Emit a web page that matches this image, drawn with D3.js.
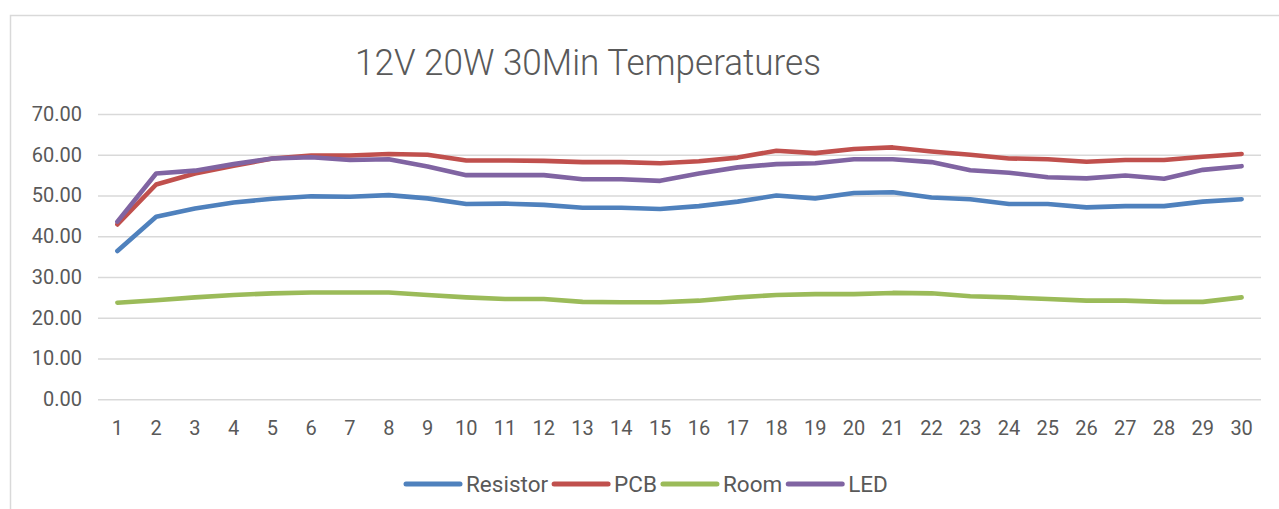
<!DOCTYPE html>
<html>
<head>
<meta charset="utf-8">
<script src="https://cdn.jsdelivr.net/npm/d3@7"></script>
<style>
  body { margin: 0; background: #fff; }
  text { font-family: Roboto, "DejaVu Sans", sans-serif; fill: #595959; }
</style>
</head>
<body>
<div id="chart"></div>
<script>
// minutes 1..30
var minutes = d3.range(1, 31).map(String);
var resistor = [36.4, 44.8, 46.8, 48.3, 49.2, 49.8, 49.7, 50.1, 49.3, 47.9, 48.0, 47.7, 47.0, 47.0, 46.7,
                47.4, 48.5, 50.0, 49.3, 50.6, 50.8, 49.5, 49.1, 47.9, 47.9, 47.1, 47.4, 47.4, 48.5, 49.1];
var pcb      = [42.9, 52.7, 55.4, 57.3, 59.1, 59.8, 59.8, 60.2, 60.0, 58.6, 58.6, 58.5, 58.2, 58.2, 57.9,
                58.4, 59.3, 61.0, 60.4, 61.4, 61.8, 60.8, 60.0, 59.1, 58.9, 58.3, 58.7, 58.7, 59.5, 60.2];
var room     = [23.7, 24.3, 25.0, 25.6, 26.0, 26.2, 26.2, 26.2, 25.6, 25.0, 24.6, 24.6, 23.9, 23.8, 23.8,
                24.2, 25.0, 25.6, 25.8, 25.8, 26.1, 26.0, 25.3, 25.0, 24.6, 24.2, 24.2, 23.9, 23.9, 25.0];
var led      = [43.6, 55.4, 56.1, 57.7, 59.1, 59.4, 58.7, 58.9, 57.1, 55.0, 55.0, 55.0, 54.0, 54.0, 53.6,
                55.4, 56.9, 57.7, 57.9, 58.9, 58.9, 58.2, 56.2, 55.6, 54.5, 54.2, 54.9, 54.1, 56.3, 57.2];
var yTicks = [0, 10, 20, 30, 40, 50, 60, 70];

var series = [
  {name: "Resistor", values: resistor, color: "#4f81bd"},
  {name: "PCB",      values: pcb,      color: "#c0504d"},
  {name: "Room",     values: room,     color: "#9bbb59"},
  {name: "LED",      values: led,      color: "#8064a2"}
];

var W = 1279, H = 509;
var svg = d3.select("#chart").append("svg")
    .attr("width", W).attr("height", H);

// outer chart frame
svg.append("rect")
    .attr("x", 10.5).attr("y", 15.5)
    .attr("width", W + 20).attr("height", H + 20)
    .attr("fill", "none").attr("stroke", "#d9d9d9").attr("stroke-width", 1.5);

var x = d3.scaleBand().domain(minutes).range([98, 1261]);
var y = d3.scaleLinear().domain([0, 70]).range([399.3, 114]);

// gridlines + y labels
var yAxis = svg.append("g").attr("transform", "translate(98,0)")
    .call(d3.axisLeft(y).tickValues(yTicks).tickSize(-1163).tickFormat(d3.format(".2f")).tickPadding(16));
yAxis.select(".domain").remove();
yAxis.selectAll("line").attr("stroke", "#d9d9d9").attr("stroke-width", 1.5);
yAxis.selectAll("text").style("font-size", "20px").attr("fill", "#595959");

// x labels
var xAxis = svg.append("g").attr("transform", "translate(0,399.3)")
    .call(d3.axisBottom(x).tickSize(0).tickPadding(22));
xAxis.select(".domain").remove();
xAxis.selectAll("text").style("font-size", "20px").attr("fill", "#595959");

var line = d3.line()
    .x(function(d, i) { return x(minutes[i]) + x.bandwidth() / 2; })
    .y(function(d) { return y(d); });

svg.selectAll("path.series")
    .data(series)
    .enter().append("path")
    .attr("class", "series")
    .attr("d", function(d) { return line(d.values); })
    .attr("fill", "none")
    .attr("stroke", function(d) { return d.color; })
    .attr("stroke-width", 4.6)
    .attr("stroke-linecap", "round")
    .attr("stroke-linejoin", "round");

// title
svg.append("text")
    .attr("x", 355).attr("y", 75)
    .attr("textLength", 466).attr("lengthAdjust", "spacingAndGlyphs")
    .style("font-size", "37px").style("font-weight", 300)
    .text("12V 20W 30Min Temperatures");

// legend
var legend = svg.append("g");
var lx = 406, ly = 484;
series.forEach(function(s) {
  legend.append("line")
      .attr("x1", lx).attr("x2", lx + 54).attr("y1", ly).attr("y2", ly)
      .attr("stroke", s.color).attr("stroke-width", 5).attr("stroke-linecap", "round");
  var t = legend.append("text")
      .attr("x", lx + 60).attr("y", ly + 8)
      .style("font-size", "22.5px")
      .text(s.name);
  lx += 60 + t.node().getComputedTextLength() + 6;
});
</script>
</body>
</html>
